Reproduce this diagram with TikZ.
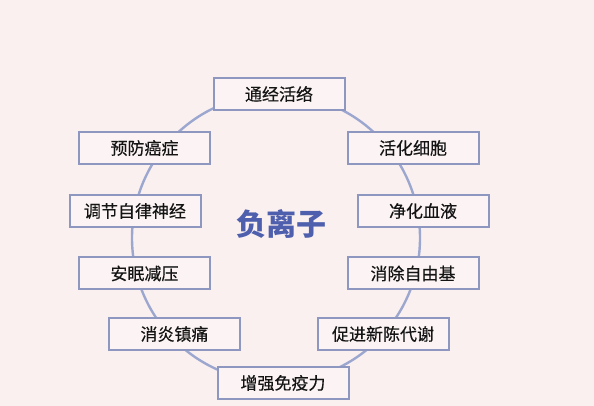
\documentclass[tikz,border=0pt]{standalone}
\usepackage{fontspec}
\newfontfamily\cjk{Noto Sans CJK SC}[FakeBold=0.4]
\newfontfamily\cjkb{Noto Sans CJK SC Black}
\definecolor{bgc}{HTML}{FBF0F0}
\definecolor{boxfill}{HTML}{FCF4F4}
\definecolor{boxline}{HTML}{8D97BF}
\definecolor{ringc}{HTML}{9CA7D0}
\definecolor{titlec}{HTML}{4D5FAD}
\tikzset{
  item/.style={draw=boxline, line width=2pt, fill=boxfill, minimum width=131pt, minimum height=32pt, inner sep=0pt, font=\cjk\fontsize{17}{17}\selectfont, text=black!92},
}
\begin{document}
\begin{tikzpicture}[x=1pt,y=1pt]
\fill[bgc] (0,0) rectangle (594,406);
\useasboundingbox (0,0) rectangle (594,406);
\draw[ringc, line width=2.4pt] (276,168) circle (144);
\node[item] (a) at (279,312) {通经活络};
\node[item] (b) at (144.5,258) {预防癌症};
\node[item] (c) at (135,195) {调节自律神经};
\node[item] (d) at (144.5,132.5) {安眠减压};
\node[item] (e) at (174.5,72) {消炎镇痛};
\node[item] (f) at (283,23) {增强免疫力};
\node[item] (g) at (383,72) {促进新陈代谢};
\node[item] (h) at (413,132.5) {消除自由基};
\node[item] (i) at (423,195) {净化血液};
\node[item] (j) at (413,258) {活化细胞};
\node[font=\cjkb\fontsize{30}{30}\selectfont, text=titlec] (t) at (281,182) {负离子};
\end{tikzpicture}
\end{document}
